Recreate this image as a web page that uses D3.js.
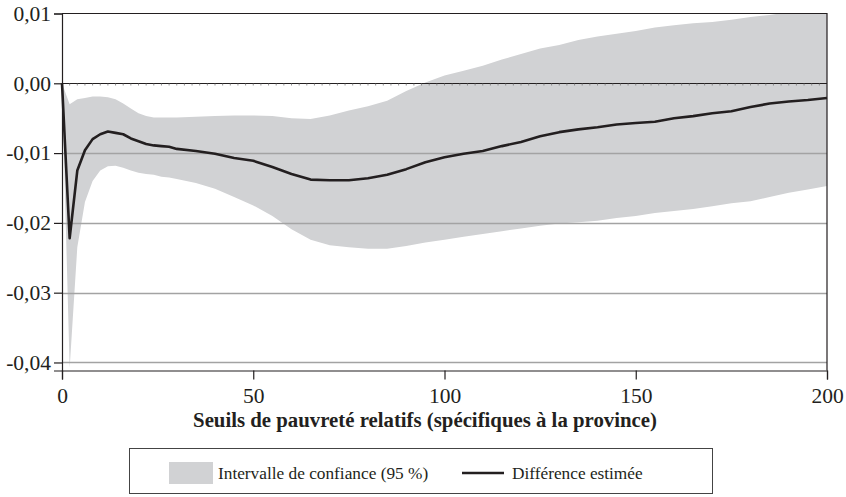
<!DOCTYPE html>
<html>
<head>
<meta charset="utf-8">
<script src="https://cdn.jsdelivr.net/npm/d3@7/dist/d3.min.js"></script>
<style>
  html, body { margin: 0; padding: 0; background: #fff; }
  svg { display: block; font-family: "Liberation Serif", "DejaVu Serif", serif; }
</style>
</head>
<body>
<div id="chart"></div>
<script>
// seuils (% de la médiane provinciale)
const seuils = [0, 2, 4, 6, 8, 10, 12, 14, 16, 18, 20, 22, 24, 26, 28, 30,
  35, 40, 45, 50, 55, 60, 65, 70, 75, 80, 85, 90, 95, 100, 105, 110, 115, 120,
  125, 130, 135, 140, 145, 150, 155, 160, 165, 170, 175, 180, 185, 190, 195, 200];

const difference = [0, -0.0222, -0.0125, -0.0096, -0.0080, -0.0073, -0.0069, -0.0071,
  -0.0073, -0.0079, -0.0083, -0.0087, -0.0089, -0.0090, -0.0091, -0.0094,
  -0.0097, -0.0101, -0.0107, -0.0111, -0.0120, -0.0130, -0.0138, -0.0139, -0.0139,
  -0.0136, -0.0131, -0.0123, -0.0113, -0.0106, -0.0101, -0.0097, -0.0090, -0.0084,
  -0.0076, -0.0070, -0.0066, -0.0063, -0.0059, -0.0057, -0.0055, -0.0050, -0.0047,
  -0.0043, -0.0040, -0.0034, -0.0029, -0.0026, -0.0024, -0.0021];

const borneSup = [0, -0.0030, -0.0023, -0.0021, -0.0019, -0.0019, -0.0020, -0.0023,
  -0.0029, -0.0036, -0.0043, -0.0047, -0.0049, -0.0049, -0.0049, -0.0049,
  -0.0048, -0.0047, -0.0046, -0.0046, -0.0047, -0.0050, -0.0051, -0.0046, -0.0039,
  -0.0033, -0.0025, -0.0011, 0.0001, 0.0011, 0.0018, 0.0025, 0.0034, 0.0042,
  0.0050, 0.0055, 0.0062, 0.0067, 0.0071, 0.0075, 0.0080, 0.0083, 0.0086,
  0.0088, 0.0091, 0.0095, 0.0098, 0.0102, 0.0105, 0.0108];

const borneInf = [0, -0.0408, -0.0235, -0.0170, -0.0140, -0.0125, -0.0119, -0.0118,
  -0.0121, -0.0125, -0.0128, -0.0130, -0.0131, -0.0134, -0.0135, -0.0137,
  -0.0143, -0.0151, -0.0163, -0.0175, -0.0190, -0.0209, -0.0224, -0.0232, -0.0235,
  -0.0237, -0.0237, -0.0233, -0.0228, -0.0224, -0.0220, -0.0216, -0.0212, -0.0208,
  -0.0204, -0.0201, -0.0199, -0.0197, -0.0193, -0.0190, -0.0186, -0.0183, -0.0180,
  -0.0176, -0.0172, -0.0169, -0.0163, -0.0157, -0.0152, -0.0147];

const yTicks = [0.01, 0, -0.01, -0.02, -0.03, -0.04];
const xTicks = [0, 50, 100, 150, 200];
const legendLabels = ["Intervalle de confiance (95 %)", "Différence estimée"];

const width = 846, height = 497;
const plotLeft = 62, plotRight = 827, plotTop = 13.5, plotBottom = 370.5;

const bandColor = "#d1d2d4";
const gridColor = "#a3a3a3";
const ink = "#231f20";
const serif = "Liberation Serif, serif";

const rows = seuils.map((s, i) => ({
  s, diff: difference[i], hi: borneSup[i], lo: borneInf[i]
}));

const x = d3.scaleLinear().domain([0, 200]).range([plotLeft, plotRight]);
const y = d3.scaleLinear().domain([-0.04115, 0.01]).range([plotBottom, plotTop]);

const fmt = v => d3.format(".2f")(v).replace("−", "-").replace(".", ",");

const svg = d3.select("#chart").append("svg")
    .attr("width", width)
    .attr("height", height);

svg.append("defs").append("clipPath")
    .attr("id", "plot-clip")
  .append("rect")
    .attr("x", plotLeft)
    .attr("y", plotTop)
    .attr("width", plotRight - plotLeft)
    .attr("height", plotBottom - plotTop);

// bande de confiance
svg.append("path")
    .datum(rows)
    .attr("clip-path", "url(#plot-clip)")
    .attr("fill", bandColor)
    .attr("d", d3.area()
      .x(d => x(d.s))
      .y0(d => y(d.lo))
      .y1(d => y(d.hi)));

// grille
svg.append("g")
  .selectAll("line")
  .data(yTicks.filter(v => v < 0))
  .enter()
  .append("line")
    .attr("x1", plotLeft)
    .attr("x2", plotRight)
    .attr("y1", d => Math.round(y(d)) + 0.5)
    .attr("y2", d => Math.round(y(d)) + 0.5)
    .attr("stroke", gridColor)
    .attr("stroke-width", 1.5);

// ligne zéro et petites graduations
const y0 = Math.round(y(0)) + 0.5;
svg.append("line")
    .attr("x1", plotLeft).attr("x2", plotRight)
    .attr("y1", y0).attr("y2", y0)
    .attr("stroke", ink)
    .attr("stroke-width", 1.2);

svg.append("g")
  .selectAll("line")
  .data(d3.range(2, 200, 2))
  .enter()
  .append("line")
    .attr("x1", d => x(d))
    .attr("x2", d => x(d))
    .attr("y1", y0)
    .attr("y2", y0 + 2)
    .attr("stroke", "#777")
    .attr("stroke-width", 0.8);

// cadre haut et droite
svg.append("path")
    .attr("d", `M${plotLeft},${plotTop}H${plotRight}V${plotBottom}`)
    .attr("fill", "none")
    .attr("stroke", ink)
    .attr("stroke-width", 1.2);

// axe y
const yAxis = svg.append("g")
    .attr("transform", `translate(${plotLeft},0)`)
    .call(d3.axisLeft(y).tickValues(yTicks).tickFormat(fmt).tickSize(8).tickPadding(3));
yAxis.select(".domain").attr("stroke", ink).attr("stroke-width", 1.2);
yAxis.selectAll(".tick line").attr("stroke", ink).attr("stroke-width", 1.2);
yAxis.selectAll("text")
    .attr("fill", ink)
    .attr("font-size", 21.5)
    .attr("font-family", serif);

// axe x
const xAxis = svg.append("g")
    .attr("transform", `translate(0,${plotBottom})`)
    .call(d3.axisBottom(x).tickValues(xTicks).tickFormat(d3.format("d")).tickSize(9).tickPadding(8));
xAxis.select(".domain").attr("stroke", ink).attr("stroke-width", 1.2);
xAxis.selectAll(".tick line").attr("stroke", ink).attr("stroke-width", 1.2);
xAxis.selectAll("text")
    .attr("fill", ink)
    .attr("font-size", 21.5)
    .attr("font-family", serif);

// différence estimée
svg.append("path")
    .datum(rows)
    .attr("fill", "none")
    .attr("stroke", ink)
    .attr("stroke-width", 2.6)
    .attr("stroke-linejoin", "round")
    .attr("d", d3.line()
      .x(d => x(d.s))
      .y(d => y(d.diff)));

// titre de l'axe x
svg.append("text")
    .attr("x", 425)
    .attr("y", 427)
    .attr("text-anchor", "middle")
    .attr("font-weight", "bold")
    .attr("font-size", 20.8)
    .attr("font-family", serif)
    .attr("fill", ink)
    .text("Seuils de pauvreté relatifs (spécifiques à la province)");

// légende
const legend = svg.append("g");
legend.append("rect")
    .attr("x", 129.5).attr("y", 448.5)
    .attr("width", 583).attr("height", 45)
    .attr("fill", "none")
    .attr("stroke", "#444")
    .attr("stroke-width", 1);
legend.append("rect")
    .attr("x", 169).attr("y", 462)
    .attr("width", 44).attr("height", 22)
    .attr("fill", bandColor);
legend.append("text")
    .attr("x", 218).attr("y", 479)
    .attr("font-size", 17.3)
    .attr("font-family", serif)
    .attr("fill", ink)
    .text(legendLabels[0]);
legend.append("line")
    .attr("x1", 462).attr("x2", 504)
    .attr("y1", 473).attr("y2", 473)
    .attr("stroke", ink)
    .attr("stroke-width", 2.6);
legend.append("text")
    .attr("x", 512).attr("y", 479)
    .attr("font-size", 17.3)
    .attr("font-family", serif)
    .attr("fill", ink)
    .text(legendLabels[1]);
</script>
</body>
</html>
